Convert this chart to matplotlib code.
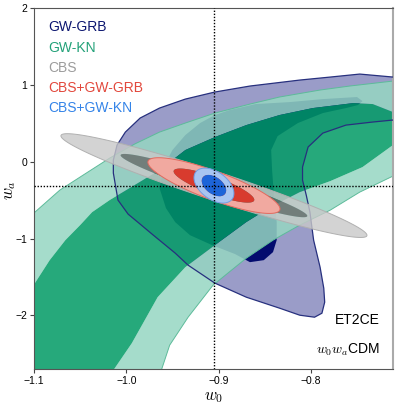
import numpy as np
import matplotlib
matplotlib.use('Agg')
import matplotlib.pyplot as plt
from matplotlib.path import Path
from matplotlib.patches import PathPatch, Polygon

plt.rcParams['font.family'] = ['Liberation Sans', 'DejaVu Sans']
plt.rcParams['mathtext.fontset'] = 'cm'

# fiducial model (dotted lines)
w0_fid = -0.905
wa_fid = -0.31

# Gaussian (Fisher) forecasts: sigma_w0, sigma_wa, correlation
cbs_sigma = (0.0667, 0.272, -0.958)
cbs_grb_sigma = (0.0288, 0.146, -0.838)
cbs_kn_sigma = (0.0087, 0.0915, -0.45)

# delta chi^2 for 1 and 2 sigma, two parameters
chi2_levels = (2.30, 6.18)

# GW-KN contours (non-Gaussian)
kn_2s_w0 = [-1.115, -1.099, -1.072, -1.045, -1.018, -0.991, -0.964, -0.936, -0.904, -0.866,
            -0.834, -0.790, -0.758, -0.711, -0.693, -0.693, -0.711, -0.747, -0.779, -0.812,
            -0.841, -0.870, -0.906, -0.933, -0.953, -0.962, -0.966, -1.115]
kn_2s_wa = [-0.825, -0.656, -0.369, -0.160, 0.048, 0.231, 0.387, 0.505, 0.635, 0.752,
            0.844, 0.935, 0.987, 1.052, 1.078, -0.082, -0.186, -0.395, -0.630, -0.825,
            -1.021, -1.256, -1.608, -2.025, -2.390, -2.716, -2.846, -2.846]
kn_1s_w0 = [-1.115, -1.099, -1.083, -1.066, -1.050, -1.037, -1.018, -0.991, -0.964, -0.936,
            -0.904, -0.870, -0.834, -0.798, -0.754, -0.733, -0.711, -0.701, -0.711, -0.744,
            -0.779, -0.812, -0.844, -0.870, -0.904, -0.936, -0.966, -0.994, -1.014, -1.018,
            -1.115]
kn_1s_wa = [-1.803, -1.581, -1.282, -1.021, -0.825, -0.656, -0.499, -0.304, -0.108, 0.153,
            0.322, 0.478, 0.609, 0.700, 0.765, 0.752, 0.648, 0.439, 0.218, -0.069,
            -0.252, -0.395, -0.591, -0.786, -1.086, -1.373, -1.764, -2.364, -2.716, -2.846,
            -2.846]

# GW-GRB contours
grb_2s_w0 = [-0.698, -0.711, -0.747, -0.779, -0.812, -0.866, -0.904, -0.936, -0.964, -0.985,
             -1.001, -1.010, -1.014, -1.014, -1.009, -0.998, -0.985, -0.972, -0.947, -0.933,
             -0.904, -0.870, -0.834, -0.812, -0.796, -0.788, -0.785, -0.786, -0.790, -0.797,
             -0.801, -0.805, -0.809, -0.809, -0.803, -0.787, -0.762, -0.733, -0.711, -0.698]
grb_2s_wa = [1.091, 1.104, 1.143, 1.104, 1.065, 0.987, 0.909, 0.817, 0.700, 0.570,
             0.387, 0.218, 0.022, -0.147, -0.499, -0.682, -0.812, -0.943, -1.190, -1.347,
             -1.581, -1.764, -1.907, -1.999, -2.025, -1.973, -1.829, -1.647, -1.373, -1.021,
             -0.656, -0.434, -0.239, -0.069, 0.192, 0.374, 0.478, 0.518, 0.544, 0.544]
grb_1s_w0 = [-0.744, -0.750, -0.787, -0.823, -0.860, -0.888, -0.904, -0.920, -0.936, -0.950,
             -0.959, -0.964, -0.957, -0.947, -0.931, -0.907, -0.882, -0.866, -0.851, -0.841,
             -0.837, -0.837, -0.840, -0.842, -0.843, -0.836, -0.814, -0.787, -0.762, -0.749]
grb_1s_wa = [0.791, 0.844, 0.817, 0.778, 0.752, 0.674, 0.609, 0.505, 0.348, 0.153,
             -0.056, -0.343, -0.604, -0.786, -0.956, -1.086, -1.203, -1.308, -1.282, -1.177,
             -1.021, -0.786, -0.434, -0.108, 0.153, 0.335, 0.505, 0.635, 0.700, 0.739]

legend_labels = ['GW-GRB', 'GW-KN', 'CBS', 'CBS+GW-GRB', 'CBS+GW-KN']
legend_colors = ['#0c1670', '#22a178', '#9c9c9c', '#e2483c', '#3484e8']


def area(p):
    x, y = p[:, 0], p[:, 1]
    return 0.5 * np.sum(x * np.roll(y, -1) - np.roll(x, -1) * y)


def ring_patch(outer, inner, **kw):
    # region between the 2 sigma and the 1 sigma contour
    outer = np.asarray(outer)
    inner = np.asarray(inner)
    if area(outer) * area(inner) > 0:
        inner = inner[::-1]
    verts = np.concatenate([outer, outer[:1], inner, inner[:1]])
    codes = ([Path.MOVETO] + [Path.LINETO] * (len(outer) - 1) + [Path.CLOSEPOLY] +
             [Path.MOVETO] + [Path.LINETO] * (len(inner) - 1) + [Path.CLOSEPOLY])
    return PathPatch(Path(verts, codes), **kw)


def gauss_contour(sig, k, n=240):
    sx, sy, rho = sig
    cov = np.array([[sx**2, rho * sx * sy], [rho * sx * sy, sy**2]])
    L = np.linalg.cholesky(cov)
    t = np.linspace(0, 2 * np.pi, n, endpoint=False)
    pts = np.sqrt(k) * (L @ np.vstack([np.cos(t), np.sin(t)])).T
    return pts + np.array([w0_fid, wa_fid])


def plot_gauss(ax, sig, c2, c1, alpha, edge, z):
    inner = gauss_contour(sig, chi2_levels[0])
    outer = gauss_contour(sig, chi2_levels[1])
    ax.add_patch(ring_patch(outer, inner, facecolor=c2, edgecolor='none', alpha=alpha, zorder=z))
    ax.add_patch(Polygon(inner, closed=True, facecolor=c1, edgecolor='none', alpha=alpha, zorder=z))
    ax.add_patch(Polygon(outer, closed=True, facecolor='none', edgecolor=edge, lw=0.7, zorder=z))


fig = plt.figure(figsize=(3.98, 4.05), dpi=100)
ax = fig.add_axes([0.0854, 0.0889, 0.902, 0.8906])

# GW-GRB (opaque, bottom)
grb2 = np.column_stack([grb_2s_w0, grb_2s_wa])
grb1 = np.column_stack([grb_1s_w0, grb_1s_wa])
ax.add_patch(Polygon(grb2, closed=True, facecolor='#9a9cc8', edgecolor='none', zorder=1))
ax.add_patch(Polygon(grb1, closed=True, facecolor='#030b6e', edgecolor='none', zorder=1.1))

# GW-KN (translucent)
kn2 = np.column_stack([kn_2s_w0, kn_2s_wa])
kn1 = np.column_stack([kn_1s_w0, kn_1s_wa])
ax.add_patch(ring_patch(kn2, kn1, facecolor='#96d6c2', edgecolor='none', alpha=0.85, zorder=2))
ax.add_patch(Polygon(kn1, closed=True, facecolor='#009a64', edgecolor='none', alpha=0.85, zorder=2))
ax.add_patch(Polygon(kn2, closed=True, facecolor='none', edgecolor='#5dbb9a', lw=0.7, zorder=2.1))

# GW-GRB outline on top of the green
ax.add_patch(Polygon(grb2, closed=True, facecolor='none', edgecolor='#27307e', lw=0.9, zorder=3))

# Fisher ellipses
plot_gauss(ax, cbs_sigma, '#c9c9c9', '#6a6a6a', 0.8, '#b0b0b0', 4)
plot_gauss(ax, cbs_grb_sigma, '#f1a9a0', '#d83b2e', 1.0, '#e46a5e', 5)
plot_gauss(ax, cbs_kn_sigma, '#a8c5f1', '#1d64d8', 1.0, '#6f9fe8', 6)

ax.axvline(w0_fid, color='k', ls=(0, (1, 1.2)), lw=1.0, zorder=7)
ax.axhline(wa_fid, color='k', ls=(0, (1, 1.2)), lw=1.0, zorder=7)

ax.set_xlim(-1.1, -0.711)
ax.set_ylim(-2.7, 2.0)
ax.set_xticks([-1.1, -1.0, -0.9, -0.8])
ax.set_yticks([-2, -1, 0, 1, 2])
ax.tick_params(direction='out', length=3, width=0.8, colors='#444444', labelsize=7.5,
               labelcolor='black', pad=2)
for side in ['left', 'bottom', 'top']:
    ax.spines[side].set_color('#555555')
    ax.spines[side].set_linewidth(0.8)
ax.spines['right'].set_color('#aaaaaa')
ax.spines['right'].set_linewidth(1.5)

ax.set_xlabel(r'$w_0$', fontsize=12, labelpad=3)
ax.set_ylabel(r'$w_a$', fontsize=12)
ax.yaxis.set_label_coords(-0.045, 0.496)

ys = [0.937, 0.880, 0.824, 0.768, 0.713]
for lab, col, y in zip(legend_labels, legend_colors, ys):
    ax.text(0.039, y, lab, color=col, fontsize=10, transform=ax.transAxes,
            ha='left', va='baseline', zorder=8)

ax.text(0.964, 0.125, 'ET2CE', fontsize=10, transform=ax.transAxes,
        ha='right', va='baseline', zorder=8)
ax.text(0.964, 0.042, r'$w_0w_a$CDM', fontsize=10, transform=ax.transAxes,
        ha='right', va='baseline', zorder=8)

fig.savefig('out.png', dpi=100)
